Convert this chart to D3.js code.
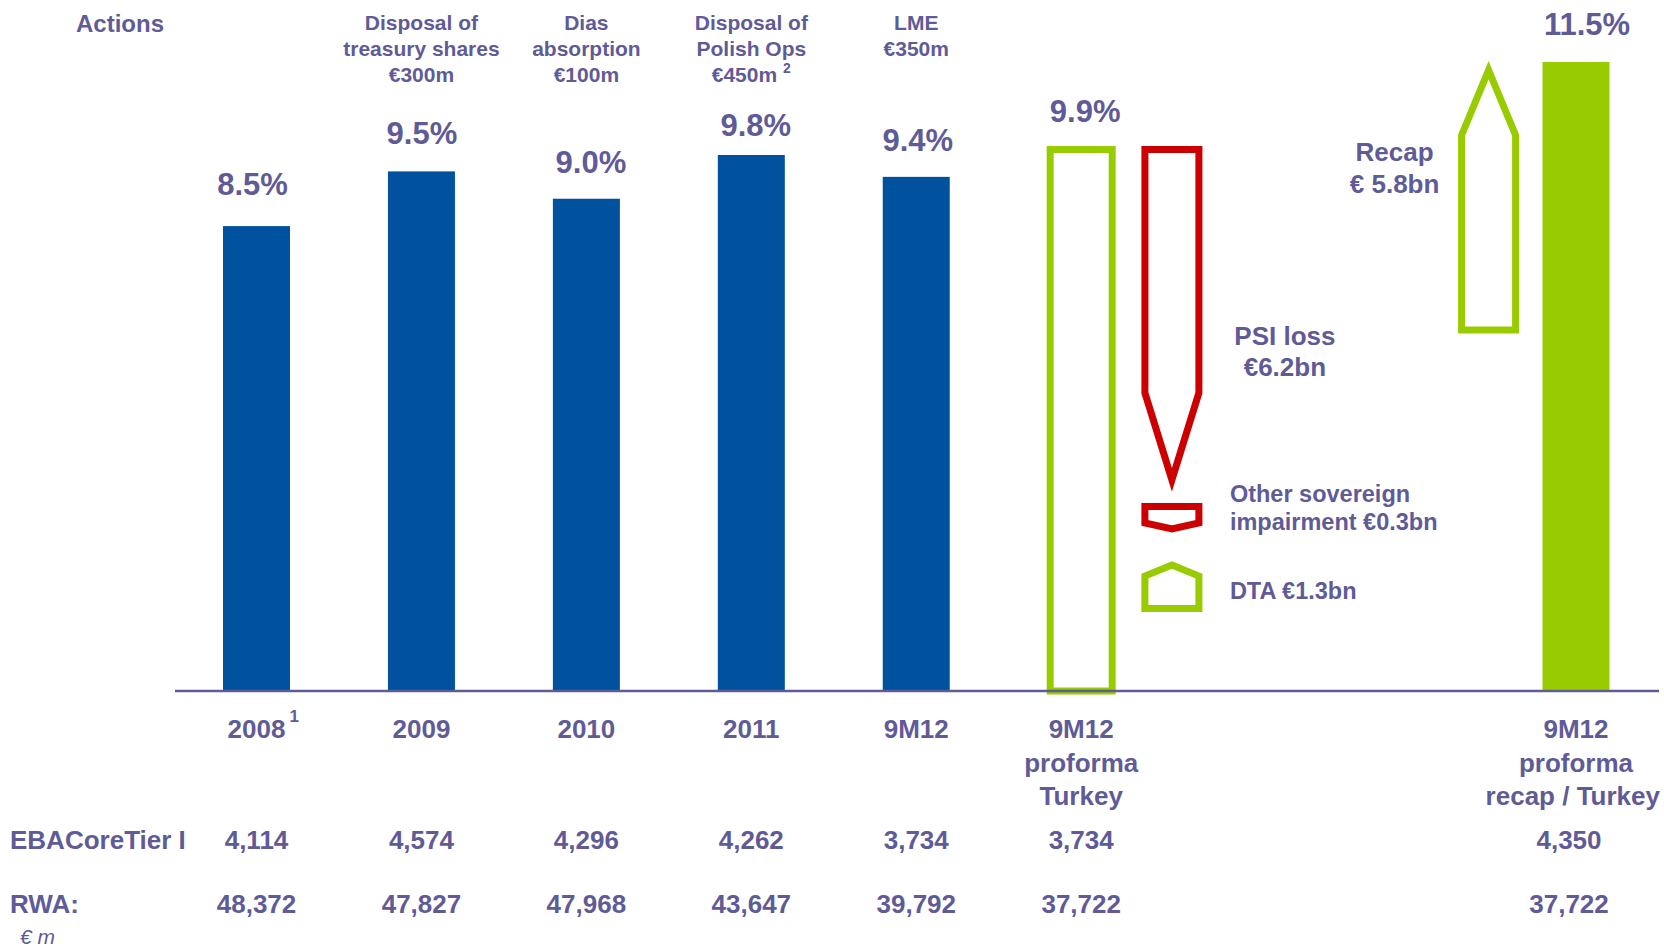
<!DOCTYPE html>
<html>
<head>
<meta charset="utf-8">
<style>
  body { margin: 0; background: #fff; }
  svg { display: block; font-family: Arial, "Liberation Sans", sans-serif; }
  .txt { fill: #5f5b97; font-weight: bold; }
</style>
</head>
<body>
<svg width="1664" height="947"></svg>
<script src="https://d3js.org/d3.v7.min.js"></script>
<script>
// ---- data ----
const categories = [["2008"], ["2009"], ["2010"], ["2011"], ["9M12"],
    ["9M12", "proforma", "Turkey"], ["9M12", "proforma", "recap / Turkey"]];
const categoryNotes = ["1", "", "", "", "", "", ""];
const slots = [0, 1, 2, 3, 4, 5, 8];   // slot 6-7 hold the bridge arrows
const ratios = [8.5, 9.5, 9.0, 9.8, 9.4, 9.9, 11.5];
const barStyles = ["blue", "blue", "blue", "blue", "blue", "outline", "green"];
const actions = [[], ["Disposal of", "treasury shares", "€300m"], ["Dias", "absorption", "€100m"],
    ["Disposal of", "Polish Ops", "€450m"], ["LME", "€350m"], [], []];
const actionNotes = ["", "", "", "2", "", "", ""];
const ebaCoreTier1 = [4114, 4574, 4296, 4262, 3734, 3734, 4350];
const rwa = [48372, 47827, 47968, 43647, 39792, 37722, 37722];

// bridge arrows (schematic, not to scale)
const bridgeNames = ["PSI loss", "Recap"];
const bridgeAmounts = ["€6.2bn", "€ 5.8bn"];
const bridgeSlots = [5.55, 7.47];
const bridgeFrom = [9.9, 6.6];
const bridgeTo = [3.86, 11.35];
const minorItems = [["Other sovereign", "impairment €0.3bn"], ["DTA €1.3bn"]];

// ---- setup ----
const width = 1664, height = 947;
const baseY = 691;
const purple = "#5f5b97", blue = "#00519e", green = "#99cc00", red = "#cc0000";

// label nudges as placed in the original slide
const pctDx = [-4, 0.5, 4.5, 4.5, 1.5, 4, 11];
const pctGap = [31, 27, 26, 19, 26, 28, 27];

const svg = d3.select("svg");

let x = d3.scaleLinear()
    .domain([0, 8])
    .range([256.5, 1576]);

let y = d3.scaleLinear()
    .domain([0, 11.5])
    .range([baseY, 62]);

const fmt = d3.format(",");
const barW = 67;

// bars
const bars = ratios.map((v, i) => ({ v, i, slot: slots[i], style: barStyles[i] }));

svg.append("g")
    .selectAll("rect")
    .data(bars.filter(d => d.style !== "outline"))
    .join("rect")
    .attr("x", d => x(d.slot) - barW / 2)
    .attr("width", barW)
    .attr("y", d => y(d.v))
    .attr("height", d => baseY - y(d.v))
    .attr("fill", d => d.style === "green" ? green : blue);

// outlined proforma bar
svg.append("g")
    .selectAll("rect")
    .data(bars.filter(d => d.style === "outline"))
    .join("rect")
    .attr("x", d => x(d.slot) - 31)
    .attr("width", 62)
    .attr("y", d => y(d.v))
    .attr("height", d => baseY - y(d.v))
    .attr("fill", "none")
    .attr("stroke", green)
    .attr("stroke-width", 7);

// baseline
svg.append("line")
    .attr("x1", 175).attr("x2", 1659)
    .attr("y1", baseY).attr("y2", baseY)
    .attr("stroke", purple)
    .attr("stroke-width", 2.5);

// percent labels
svg.append("g")
    .selectAll("text")
    .data(bars)
    .join("text")
    .attr("class", "txt")
    .attr("x", d => x(d.slot) + pctDx[d.i])
    .attr("y", d => y(d.v) - pctGap[d.i])
    .attr("text-anchor", "middle")
    .style("font-size", "31px")
    .text(d => d.v.toFixed(1) + "%");

// arrows
function arrowPath(cx, hw, y0, y1, head) {
    const dir = y1 > y0 ? 1 : -1;
    const sh = y1 - dir * head;
    return d3.line()([[cx - hw, y0], [cx + hw, y0], [cx + hw, sh], [cx, y1], [cx - hw, sh]]) + "Z";
}
const arrowHead = [87, 65];
const arrowColors = [red, green];

bridgeNames.forEach((name, i) => {
    const cx = x(bridgeSlots[i]);
    svg.append("path")
        .attr("d", arrowPath(cx, 27, y(bridgeFrom[i]), y(bridgeTo[i]), arrowHead[i]))
        .attr("fill", "none")
        .attr("stroke", arrowColors[i])
        .attr("stroke-width", 7)
        .attr("stroke-linejoin", "miter");
});

// PSI label
const psiX = x(bridgeSlots[0]);
[bridgeNames[0], bridgeAmounts[0]].forEach((t, k) => {
    svg.append("text").attr("class", "txt")
        .attr("x", psiX + 113).attr("y", 345 + k * 31)
        .attr("text-anchor", "middle")
        .style("font-size", "26px")
        .text(t);
});

// Recap label
const recapX = x(bridgeSlots[1]);
[bridgeNames[1], bridgeAmounts[1]].forEach((t, k) => {
    svg.append("text").attr("class", "txt")
        .attr("x", recapX - 94).attr("y", 161 + k * 32)
        .attr("text-anchor", "middle")
        .style("font-size", "26px")
        .text(t);
});

// small glyphs for the minor items
svg.append("path")
    .attr("d", d3.line()([[psiX - 27, 506.5], [psiX + 27, 506.5], [psiX + 27, 523], [psiX, 529], [psiX - 27, 523]]) + "Z")
    .attr("fill", "none").attr("stroke", red).attr("stroke-width", 7);
svg.append("path")
    .attr("d", d3.line()([[psiX - 27, 608.5], [psiX + 27, 608.5], [psiX + 27, 576], [psiX, 565], [psiX - 27, 576]]) + "Z")
    .attr("fill", "none").attr("stroke", green).attr("stroke-width", 7);

minorItems[0].forEach((t, k) => {
    svg.append("text").attr("class", "txt")
        .attr("x", psiX + 58).attr("y", 501.5 + k * 28.5)
        .style("font-size", "23.5px")
        .text(t);
});
svg.append("text").attr("class", "txt")
    .attr("x", psiX + 58).attr("y", 599)
    .style("font-size", "23.5px")
    .text(minorItems[1][0]);

// header "Actions" and action annotations
svg.append("text").attr("class", "txt")
    .attr("x", 76).attr("y", 32)
    .style("font-size", "24px")
    .text("Actions");

actions.forEach((lines, i) => {
    lines.forEach((t, k) => {
        const tx = svg.append("text").attr("class", "txt")
            .attr("x", x(slots[i])).attr("y", 30 + k * 26)
            .attr("text-anchor", "middle")
            .style("font-size", "21px")
            .text(t);
        if (k === lines.length - 1 && actionNotes[i]) {
            tx.append("tspan").attr("dx", 6).attr("dy", -9)
                .style("font-size", "14px").text(actionNotes[i]);
        }
    });
});

// category labels
categories.forEach((lines, i) => {
    lines.forEach((t, k) => {
        const tx = svg.append("text").attr("class", "txt")
            .attr("x", x(slots[i])).attr("y", 738 + k * 33.5)
            .attr("text-anchor", "middle")
            .style("font-size", "26px")
            .text(t);
        const w = tx.node().getComputedTextLength();
        if (x(slots[i]) + w / 2 > width - 4) tx.attr("x", width - 4 - w / 2);
    });
    if (categoryNotes[i]) {
        svg.append("text").attr("class", "txt")
            .attr("x", x(slots[i]) + 33).attr("y", 722)
            .style("font-size", "17px")
            .text(categoryNotes[i]);
    }
});

// table rows
const rows = [["EBACoreTier I", ebaCoreTier1, 849], ["RWA:", rwa, 913]];
rows.forEach(([name, vals, ry]) => {
    svg.append("text").attr("class", "txt")
        .attr("x", 10).attr("y", ry)
        .style("font-size", "26px")
        .text(name);
    svg.append("g")
        .selectAll("text")
        .data(vals)
        .join("text")
        .attr("class", "txt")
        .attr("x", (d, i) => x(slots[i]) + (slots[i] === 8 ? -7 : 0))
        .attr("y", ry)
        .attr("text-anchor", "middle")
        .style("font-size", "26px")
        .text(d => fmt(d));
});

svg.append("text")
    .attr("x", 20).attr("y", 944)
    .style("font-size", "21px")
    .style("font-style", "italic")
    .attr("fill", purple)
    .text("€ m");
</script>
</body>
</html>
